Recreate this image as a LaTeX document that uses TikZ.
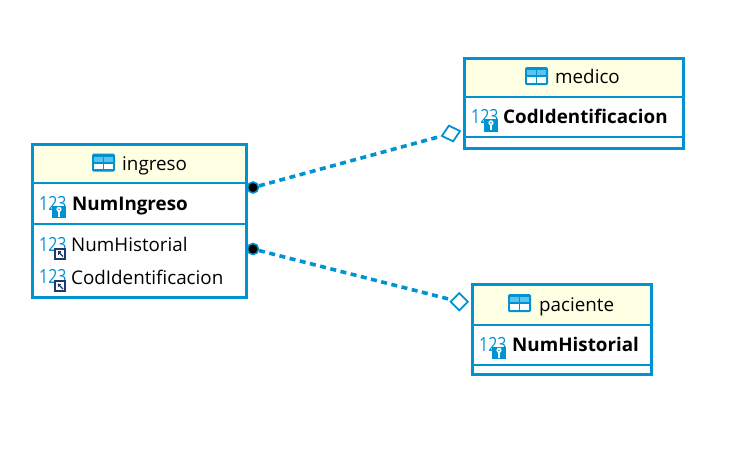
\documentclass[tikz,border=0pt]{standalone}
\usepackage{fontspec}
\setmainfont{Open Sans}
\usetikzlibrary{shapes.geometric}
\definecolor{dbblue}{HTML}{0093D2}
\definecolor{dblight}{HTML}{5CC4EC}
\definecolor{dbcream}{HTML}{FFFFE4}
\definecolor{dbnavy}{HTML}{1F3A68}
\tikzset{
	tablebox/.style={draw=dbblue, line width=3pt, anchor=north west, inner sep=0pt, outer sep=0pt},
	headbox/.style={fill=dbcream, anchor=north west, inner sep=0pt, outer sep=0pt},
	sepline/.style={draw=dbblue, line width=2pt},
	tablelabel/.style={anchor=base west, inner sep=0pt, font=\fontsize{18.8}{20}\selectfont},
	keylabel/.style={tablelabel, font=\fontsize{18.8}{20}\selectfont\bfseries},
	numicon/.style={anchor=base west, inner sep=0pt, text=dbblue, transform shape, xscale=0.82, font=\fontsize{19.5}{20}\selectfont},
	reldot/.style={circle, draw=dbblue, fill=black, line width=1.6pt, minimum size=11pt, inner sep=0pt},
	reldiamond/.style={diamond, draw=dbblue, fill=white, line width=1.8pt, inner sep=0pt},
	relline/.style={draw=dbblue, line width=3.6pt, dash pattern=on 6pt off 4.5pt},
	tableicon/.pic={
		\fill[dbblue, rounded corners=1.5pt] (0,0) rectangle (23,18);
		\fill[dblight] (2,3) rectangle (10.8,8);
		\fill[dblight] (12.2,3) rectangle (21,8);
		\fill[white] (2,10) rectangle (10.8,15.5);
		\fill[white] (12.2,10) rectangle (21,15.5);
	},
	keybadge/.pic={
		\fill[dbblue] (0,0) rectangle (14,12.5);
		\fill[white] (7,3.8) circle (2.6pt);
		\fill[dbblue] (7,3.8) circle (0.9pt);
		\draw[white, line width=1.3pt] (7,5.5) -- (7,11);
	},
	refbadge/.pic={
		\fill[dbnavy] (0,0) rectangle (12,12);
		\fill[white] (2,2) rectangle (10,10);
		\draw[dbnavy, line width=1.4pt] (4,4) -- (9,9);
		\fill[dbnavy] (3.5,3.5) rectangle (7,5);
		\fill[dbnavy] (3.5,3.5) rectangle (5,7);
	},
}

\begin{document}
\begin{tikzpicture}[x=1pt, y=-1pt]
	\useasboundingbox (0,0) rectangle (734,451);

	\node (ingreso_head) [headbox, minimum width=212pt, minimum height=39pt] at (33,144) {};
	\node (medico_head) [headbox, minimum width=218pt, minimum height=39pt] at (465,58) {};
	\node (paciente_head) [headbox, minimum width=178pt, minimum height=40pt] at (473,285) {};

	\node (ingreso) [tablebox, minimum width=213.5pt, minimum height=153.5pt] at (32.5,144) {};
	\node (medico) [tablebox, minimum width=219pt, minimum height=90pt] at (464.7,58) {};
	\node (paciente) [tablebox, minimum width=178.6pt, minimum height=89.8pt] at (472.7,284.7) {};

	\coordinate (ingreso_sep) at (32.5,223.7);
	\coordinate (medico_sep) at (464.7,136.7);
	\coordinate (paciente_sep) at (472.7,364.7);
	\foreach \t in {ingreso,medico,paciente}{
		\draw[sepline] (\t.west |- \t_head.south) -- (\t.east |- \t_head.south);
		\draw[sepline] (\t.west |- \t_sep) -- (\t.east |- \t_sep);
	}

	\pic at (92,153.5) {tableicon};
	\pic at (525,67) {tableicon};
	\pic at (508,294) {tableicon};
	\node (ingreso_name) [tablelabel] at (122,170) {ingreso};
	\node (medico_name) [tablelabel] at (555,83) {medico};
	\node (paciente_name) [tablelabel] at (539,311) {paciente};

	\foreach \nx/\ny/\nm in {39/210/a, 39/251/b, 39/283.5/c, 471/123/d, 479/351/e}{
		\node (num_\nm) [numicon] at (\nx,\ny) {123};
	}
	\foreach \bx/\by in {52/205.5, 484/119, 492/346.5}{
		\pic at (\bx,\by) {keybadge};
	}
	\foreach \bx/\by in {54/247.5, 54/280}{
		\pic at (\bx,\by) {refbadge};
	}

	\node (ingreso_key) [keylabel] at (72,210) {NumIngreso};
	\node (ingreso_hist) [tablelabel] at (71,251) {NumHistorial};
	\node (ingreso_cod) [tablelabel] at (71,284) {CodIdentificacion};
	\node (medico_key) [keylabel] at (503,123) {CodIdentificacion};
	\node (paciente_key) [keylabel] at (512,351) {NumHistorial};

	\node (dot_medico) [reldot] at (253,187.5) {};
	\node (dot_paciente) [reldot] at (253,249) {};
	\node (end_medico) [reldiamond, rotate=15, minimum width=19.5pt, minimum height=17pt] at (451,133.5) {};
	\node (end_paciente) [reldiamond, minimum width=18pt, minimum height=18pt] at (459.2,301.7) {};

	\draw[relline] (dot_medico) -- (end_medico);
	\draw[relline] (dot_paciente) -- (end_paciente);
\end{tikzpicture}
\end{document}
